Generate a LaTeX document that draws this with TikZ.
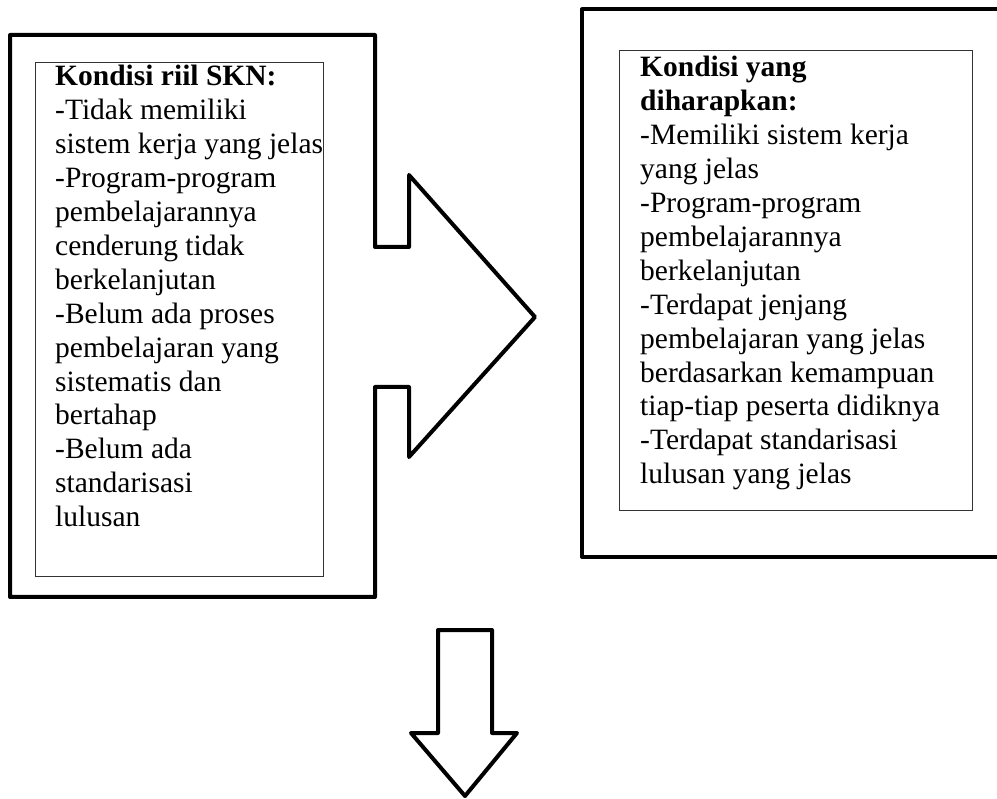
\documentclass[tikz,border=0pt]{standalone}
\usepackage{fontspec}
\setmainfont{Liberation Serif}
\begin{document}
\begin{tikzpicture}[x=1pt,y=-1pt,
  thick outline/.style={line width=4pt, line join=round, draw=black, fill=white},
  innerbox/.style={draw=black!80, line width=1.2pt, fill=white, inner sep=0pt, anchor=north west},
  boxtext/.style={anchor=base west, inner sep=0pt, align=left, font=\fontsize{29.5}{33.9}\selectfont}]
\useasboundingbox (0,0) rectangle (997,799);
% right outer box (runs off the right edge)
\draw[thick outline] (582,9.5) -- (1012,9.5) -- (1012,557) -- (582,557) -- cycle;
% left outer box merged with the right arrow
\draw[thick outline] (10,35) -- (375,35) -- (375,247) -- (409,247) -- (409,175)
  -- (535,317) -- (409,457) -- (409,387) -- (375,387) -- (375,597) -- (10,597) -- cycle;
% inner boxes
\node[innerbox, minimum width=288pt, minimum height=514pt] (leftbox) at (35,62) {};
\node[innerbox, minimum width=353pt, minimum height=460pt] (rightbox) at (619,50) {};
% texts
\node[boxtext] (lefttext) at (55,86) {\vtop{\hbox{\textbf{Kondisi riil SKN:}}
  \hbox{-Tidak memiliki}
  \hbox{sistem kerja yang jelas}
  \hbox{-Program-program}
  \hbox{pembelajarannya}
  \hbox{cenderung tidak}
  \hbox{berkelanjutan}
  \hbox{-Belum ada proses}
  \hbox{pembelajaran yang}
  \hbox{sistematis dan}
  \hbox{bertahap}
  \hbox{-Belum ada}
  \hbox{standarisasi}
  \hbox{lulusan}}};
\node[boxtext] (righttext) at (640,77) {\vtop{\hbox{\textbf{Kondisi yang}}
  \hbox{\textbf{diharapkan:}}
  \hbox{-Memiliki sistem kerja}
  \hbox{yang jelas}
  \hbox{-Program-program}
  \hbox{pembelajarannya}
  \hbox{berkelanjutan}
  \hbox{-Terdapat jenjang}
  \hbox{pembelajaran yang jelas}
  \hbox{berdasarkan kemampuan}
  \hbox{tiap-tiap peserta didiknya}
  \hbox{-Terdapat standarisasi}
  \hbox{lulusan yang jelas}}};
% down arrow
\draw[thick outline] (438,630) -- (492,630) -- (492,733) -- (517,733) -- (465,796)
  -- (411,733) -- (438,733) -- cycle;
\end{tikzpicture}
\end{document}
